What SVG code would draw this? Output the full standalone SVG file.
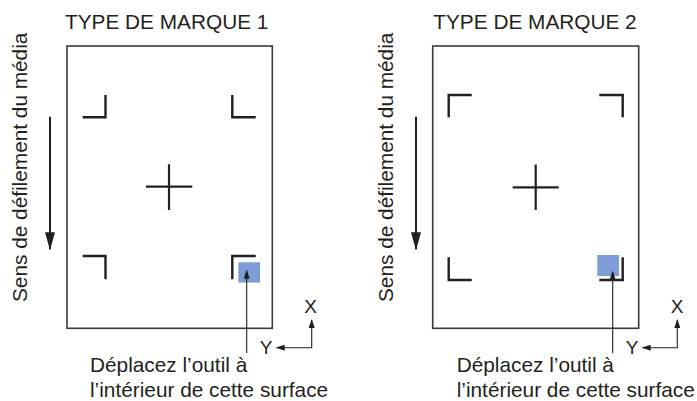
<svg xmlns="http://www.w3.org/2000/svg" width="697" height="401" viewBox="0 0 697 401">
<defs>
<marker id="sm" markerUnits="userSpaceOnUse" markerWidth="9" markerHeight="6" refX="8" refY="3" orient="auto-start-reverse">
<path d="M0,0 L9,3 L0,6 z" fill="#231f20"/>
</marker>
<marker id="big" markerUnits="userSpaceOnUse" markerWidth="18" markerHeight="10" refX="17" refY="5" orient="auto">
<path d="M0,0 L18,5 L0,10 z" fill="#231f20"/>
</marker>
<style>
.t{font-family:"Liberation Sans",Arial,sans-serif;font-size:20.8px;fill:#231f20}
.ax{font-family:"Liberation Sans",Arial,sans-serif;font-size:19px;fill:#231f20;text-anchor:middle}
.sheet{fill:none;stroke:#3a3a3a;stroke-width:1.6}
.mk{fill:none;stroke:#231f20;stroke-width:2.4}
.cr{fill:none;stroke:#231f20;stroke-width:2.2}
.blue{fill:#7d9dd6}
.ptr{fill:none;stroke:#231f20;stroke-width:1.1}
.dir{fill:none;stroke:#231f20;stroke-width:2}
</style>
</defs>
<rect width="697" height="401" fill="#ffffff"/>

<g id="panel1">
<text class="t" x="65" y="29.3">TYPE DE MARQUE 1</text>
<rect class="sheet" x="67" y="46" width="205.3" height="282.3"/>
<g id="p1-marks">
<path class="mk" d="M82.7,117.3 H105.5 V95"/>
<path class="mk" d="M232.3,95 V117.3 H255.7"/>
<path class="mk" d="M82.7,256 H105.5 V279.3"/>
<path class="mk" d="M232.3,279.3 V256 H255.7"/>
<path class="cr" d="M146,186.7 H192.3 M169,164.3 V210"/>
</g>
<rect id="p1-area" class="blue" x="238.3" y="262.3" width="21.7" height="20.3"/>
<text class="t" transform="translate(27,302) rotate(-90)">Sens de défilement du média</text>
<text class="t" x="90" y="371.7">Déplacez l’outil à</text>
<text class="t" x="90" y="396.7">l’intérieur de cette surface</text>
<text class="ax" x="310.5" y="313.3">X</text>
<text class="ax" x="266" y="353.5">Y</text>
</g>

<g id="panel2">
<text class="t" x="433.3" y="29.3">TYPE DE MARQUE 2</text>
<rect class="sheet" x="432.7" y="46" width="206" height="282.3"/>
<g id="p2-marks">
<path class="mk" d="M448.7,117.3 V95 H471.7"/>
<path class="mk" d="M599.3,95 H622.7 V117.3"/>
<path class="mk" d="M448.7,257.3 V280 H471.7"/>
<path class="mk" d="M599.3,280 H622.7 V257.3"/>
<path class="cr" d="M512.7,187.3 H558.7 M535.7,164.5 V210"/>
</g>
<rect id="p2-area" class="blue" x="597.3" y="255" width="21.7" height="21"/>
<text class="t" transform="translate(393.3,302) rotate(-90)">Sens de défilement du média</text>
<text class="t" x="456.7" y="371.7">Déplacez l’outil à</text>
<text class="t" x="456.7" y="396.7">l’intérieur de cette surface</text>
<text class="ax" x="677" y="313.3">X</text>
<text class="ax" x="632" y="353.5">Y</text>
</g>

<g id="connectors">
<line class="dir" x1="50" y1="116.7" x2="50" y2="249.3" marker-end="url(#big)"/>
<line class="dir" x1="416" y1="116.7" x2="416" y2="249.3" marker-end="url(#big)"/>
<line class="ptr" x1="246.7" y1="353" x2="246.7" y2="270.7" marker-end="url(#sm)"/>
<line class="ptr" x1="612.7" y1="353" x2="612.7" y2="271.7" marker-end="url(#sm)"/>
<polyline class="ptr" points="276.7,347.7 311.7,347.7 311.7,320" marker-start="url(#sm)" marker-end="url(#sm)"/>
<polyline class="ptr" points="642.7,347.7 677.3,347.7 677.3,320" marker-start="url(#sm)" marker-end="url(#sm)"/>
</g>
</svg>
